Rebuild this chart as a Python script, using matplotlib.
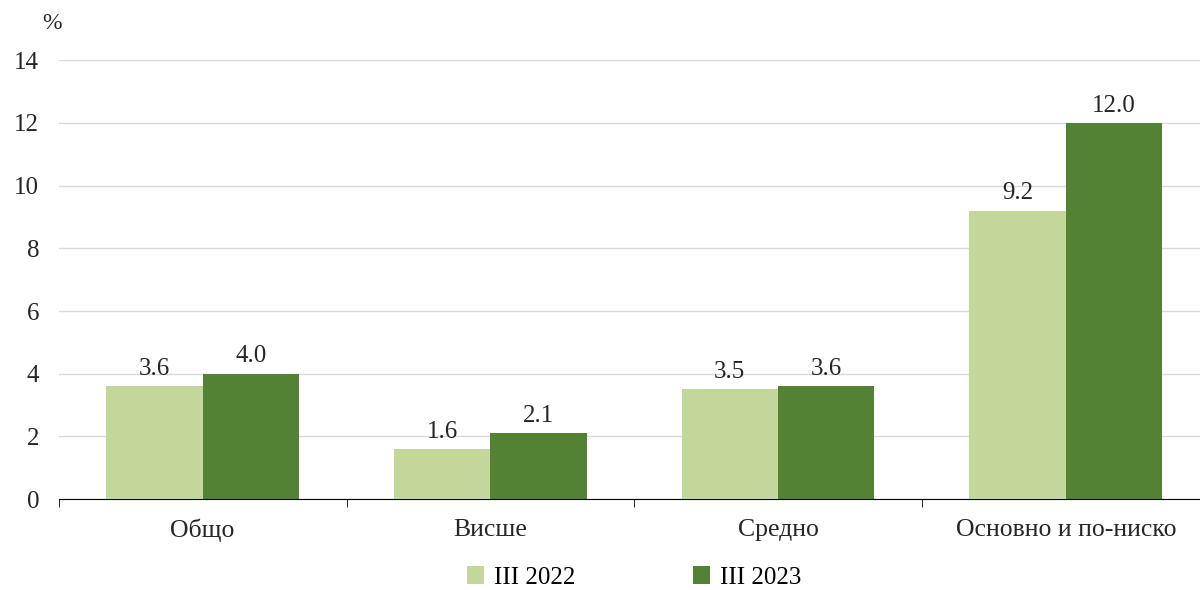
import numpy as np
import matplotlib.pyplot as plt

categories = ['Общо', 'Висше', 'Средно', 'Основно и по-ниско']
series_names = ['III 2022', 'III 2023']
vals_2022 = [3.6, 1.6, 3.5, 9.2]
vals_2023 = [4.0, 2.1, 3.6, 12.0]
colors = ['#C4D79B', '#548235']

plt.rcParams['font.family'] = ['Liberation Serif', 'DejaVu Serif']

fig = plt.figure(figsize=(12, 5.9), dpi=100)
ax = fig.add_axes([0.049, 0.154, 0.959, 0.744])

x = np.arange(len(categories))
w = 0.335
b1 = ax.bar(x - w / 2, vals_2022, w, color=colors[0], label=series_names[0], zorder=3)
b2 = ax.bar(x + w / 2, vals_2023, w, color=colors[1], label=series_names[1], zorder=3)

for bars, vals in ((b1, vals_2022), (b2, vals_2023)):
    for r, v in zip(bars, vals):
        ax.text(r.get_x() + r.get_width() / 2, v + 0.2, f'{v:.1f}',
                ha='center', va='bottom', fontsize=18, color='#262626')

ax.set_xlim(-0.5, len(categories) - 0.5)
ax.set_ylim(0, 14)
ax.set_yticks(range(0, 15, 2))
ax.yaxis.grid(True, color='#D9D9D9', linewidth=1, zorder=0)
ax.tick_params(axis='y', length=0, labelsize=18, pad=14, colors='#262626')

# category ticks at group boundaries
ax.set_xticks(x)
ax.set_xticklabels(categories, fontsize=18.5, color='#262626')
ax.tick_params(axis='x', length=0, pad=14)
ax.set_xticks(np.arange(-0.5, len(categories)), minor=True)
ax.tick_params(axis='x', which='minor', length=6, direction='out', color='black')

for s in ['top', 'right', 'left']:
    ax.spines[s].set_visible(False)
ax.spines['bottom'].set_color('black')

fig.text(0.035, 0.96, '%', fontsize=17, color='#262626', ha='left', va='center')

ax.legend(loc='upper center', bbox_to_anchor=(0.5, -0.113), ncol=2, frameon=False,
          fontsize=18, handlelength=0.7, handleheight=0.7, columnspacing=4.7,
          handletextpad=0.4, borderpad=0.2)

fig.savefig('out.png', dpi=100)
